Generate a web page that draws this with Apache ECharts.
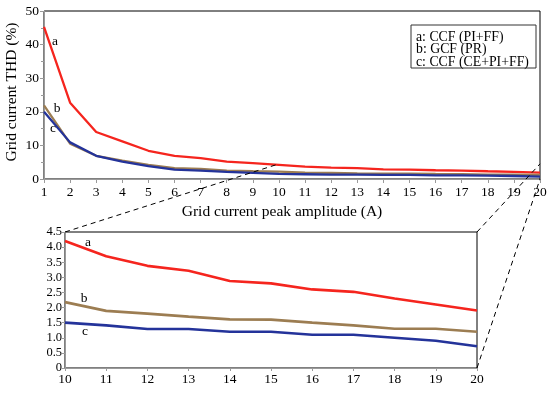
<!DOCTYPE html>
<html>
<head>
<meta charset="utf-8">
<script src="https://cdn.jsdelivr.net/npm/echarts@6/dist/echarts.min.js"></script>
<style>html,body{margin:0;padding:0;background:#fff}#c{width:550px;height:393px}</style>
</head>
<body>
<div id="c"></div>
<script>
// Data
var amplitude = [1,2,3,4,5,6,7,8,9,10,11,12,13,14,15,16,17,18,19,20];
var thdA = [45.3,22.7,14.0,11.2,8.4,6.9,6.2,5.2,4.7,4.2,3.7,3.38,3.22,2.88,2.8,2.6,2.52,2.3,2.1,1.9];
var thdB = [21.9,10.5,6.9,5.5,4.2,3.2,3.0,2.5,2.3,2.18,1.89,1.8,1.7,1.61,1.6,1.5,1.41,1.3,1.3,1.2];
var thdC = [20.0,10.9,6.9,5.2,3.8,2.8,2.5,2.1,1.8,1.5,1.41,1.29,1.29,1.2,1.2,1.1,1.1,1.0,0.9,0.72];
var legendLines = ['a: CCF (PI+FF)', 'b: GCF (PR)', 'c: CCF (CE+PI+FF)'];
var seriesTags = ['a','b','c'];
var xTitle = 'Grid current peak amplitude (A)';
var yTitle = 'Grid current THD (%)';
var zoomRange = {xMin:10, xMax:20, yMin:0, yMax:4.5};

var colors = ['#f5251e', '#9c7d52', '#24339a'];
var serif = '"Liberation Serif","DejaVu Serif",serif';
function pairs(ys, lo, hi){
  var out=[]; for(var i=0;i<amplitude.length;i++){ if(amplitude[i]>=lo && amplitude[i]<=hi) out.push([amplitude[i], ys[i]]); } return out;
}
var allY=[thdA,thdB,thdC];
var series=[];
[2,1,0].forEach(function(k){
  series.push({type:'line', xAxisIndex:0, yAxisIndex:0, data:pairs(allY[k],1,20), symbol:'none', lineStyle:{color:colors[k], width:2.3}, z:3+k});
  series.push({type:'line', xAxisIndex:1, yAxisIndex:1, data:pairs(allY[k],zoomRange.xMin,zoomRange.xMax), symbol:'none', lineStyle:{color:colors[k], width:2.6}, z:3+k});
});
var axisGray = '#9a9a9a';
var chart = echarts.init(document.getElementById('c'), null, {renderer:'canvas'});
chart.setOption({
  animation:false,
  grid:[
    {left:44, top:11, right:10, height:168, show:true, borderColor:'#000', borderWidth:1, backgroundColor:'transparent'},
    {left:65, top:232, width:412, height:136, show:true, borderColor:'#000', borderWidth:1, backgroundColor:'transparent'}
  ],
  xAxis:[
    {type:'value', gridIndex:0, min:1, max:20, interval:1,
     axisLine:{lineStyle:{color:axisGray}}, axisTick:{length:4, lineStyle:{color:axisGray}},
     axisLabel:{fontFamily:serif, fontSize:13.5, color:'#000', margin:6}, splitLine:{show:false}},
    {type:'value', gridIndex:1, min:10, max:20, interval:1,
     axisLine:{lineStyle:{color:axisGray}}, axisTick:{length:3, lineStyle:{color:axisGray}},
     axisLabel:{fontFamily:serif, fontSize:13.5, color:'#000', margin:4}, splitLine:{show:false}}
  ],
  yAxis:[
    {type:'value', gridIndex:0, min:0, max:50, interval:10,
     axisLine:{show:true, lineStyle:{color:axisGray}}, axisTick:{show:true, length:4, lineStyle:{color:axisGray}},
     minorTick:{show:true, splitNumber:2, length:3, lineStyle:{color:axisGray}},
     axisLabel:{fontFamily:serif, fontSize:13.5, color:'#000', margin:5}, splitLine:{show:false}},
    {type:'value', gridIndex:1, min:0, max:4.5, interval:0.5,
     axisLine:{show:true, lineStyle:{color:axisGray}}, axisTick:{show:true, length:3, lineStyle:{color:axisGray}},
     axisLabel:{fontFamily:serif, fontSize:12.5, color:'#000', margin:3, formatter:function(v){return v===0?'0':v.toFixed(1);}},
     splitLine:{show:false}}
  ],
  series:series
});

// annotations computed from the axes
var g=[];
var tl = chart.convertToPixel({gridIndex:0},[zoomRange.xMin, zoomRange.yMax]);
var tr = chart.convertToPixel({gridIndex:0},[zoomRange.xMax, zoomRange.yMax]);
var br = chart.convertToPixel({gridIndex:0},[zoomRange.xMax, zoomRange.yMin]);
var btl = chart.convertToPixel({gridIndex:1},[zoomRange.xMin, zoomRange.yMax]);
var btr = chart.convertToPixel({gridIndex:1},[zoomRange.xMax, zoomRange.yMax]);
var bbr = chart.convertToPixel({gridIndex:1},[zoomRange.xMax, zoomRange.yMin]);
[[btl,tl],[btr,tr],[bbr,br]].forEach(function(p){
  g.push({type:'line', shape:{x1:p[0][0],y1:p[0][1],x2:p[1][0],y2:p[1][1]}, style:{stroke:'#000', lineWidth:1, lineDash:[5,4]}, z:10});
});
// series tags near the first point of each chart
var topOff=[[11,15],[13,3],[9,17]];
var botOff=[[23,1],[19,-4],[20,9]];
var idx=amplitude.indexOf(zoomRange.xMin);
for(var k=0;k<3;k++){
  var p=chart.convertToPixel({gridIndex:0},[amplitude[0], allY[k][0]]);
  g.push({type:'text', x:p[0]+topOff[k][0], y:p[1]+topOff[k][1], style:{text:seriesTags[k], font:'13.5px '+serif, fill:'#000', align:'center', verticalAlign:'middle'}, z:11});
  var q=chart.convertToPixel({gridIndex:1},[amplitude[idx], allY[k][idx]]);
  g.push({type:'text', x:q[0]+botOff[k][0], y:q[1]+botOff[k][1], style:{text:seriesTags[k], font:'13.5px '+serif, fill:'#000', align:'center', verticalAlign:'middle'}, z:11});
}
// axis titles
g.push({type:'text', x:12, y:92, rotation:Math.PI/2, style:{text:yTitle, font:'15.5px '+serif, fill:'#000', align:'center', verticalAlign:'middle'}, z:11});
g.push({type:'text', x:282, y:212, style:{text:xTitle, font:'15.5px '+serif, fill:'#000', align:'center', verticalAlign:'middle'}, z:11});
// legend box
g.push({type:'rect', shape:{x:411, y:25, width:125, height:43}, style:{fill:'#fff', stroke:'#333', lineWidth:1}, z:12});
legendLines.forEach(function(t,i){
  g.push({type:'text', x:416, y:37+i*12.5, style:{text:t, font:'13.8px '+serif, fill:'#000', align:'left', verticalAlign:'middle'}, z:13});
});
chart.setOption({graphic:g});
</script>
</body>
</html>
